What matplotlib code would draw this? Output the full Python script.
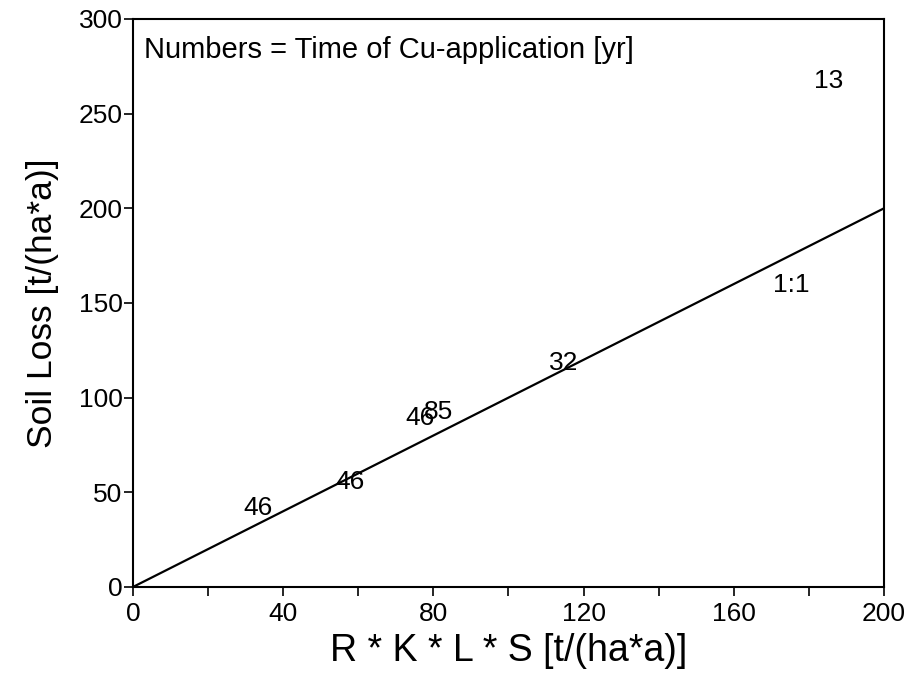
import matplotlib
matplotlib.use("Agg")
import matplotlib.pyplot as plt
from matplotlib.ticker import MultipleLocator

plt.rcParams['font.family'] = ['Liberation Sans', 'DejaVu Sans']

# Data: label text and positions (R*K*L*S, Soil Loss)
labels = ["13", "32", "46", "85", "46", "46"]
x_vals = [185.3, 114.7, 76.5, 81.3, 57.9, 33.3]
y_vals = [267.0, 118.3, 89.3, 92.4, 55.5, 41.7]

line_x = [0, 200]
line_y = [0, 200]
line_label = "1:1"
line_label_pos = (175.2, 159.5)

x_ticks = [0, 40, 80, 120, 160, 200]
y_ticks = [0, 50, 100, 150, 200, 250, 300]

fig = plt.figure(figsize=(9.12, 6.75), dpi=100)
ax = fig.add_axes([0.1458, 0.1304, 0.8235, 0.8415])

ax.plot(line_x, line_y, color='black', lw=1.6)
ax.text(line_label_pos[0], line_label_pos[1], line_label, ha='center', va='center', fontsize=19)

for t, x, y in zip(labels, x_vals, y_vals):
    ax.text(x, y, t, ha='center', va='center', fontsize=19)

ax.text(0.015, 0.945, "Numbers = Time of Cu-application [yr]", transform=ax.transAxes,
        ha='left', va='center', fontsize=21)

ax.set_xlim(0, 200)
ax.set_ylim(0, 300)
ax.set_xticks(x_ticks)
ax.set_yticks(y_ticks)
ax.xaxis.set_minor_locator(MultipleLocator(20))
ax.tick_params(axis='both', which='both', direction='out', length=6.5, width=1.2, labelsize=19)
ax.tick_params(axis='x', which='major', pad=4)
ax.tick_params(axis='y', which='major', pad=1)
for s in ax.spines.values():
    s.set_linewidth(1.5)

ax.set_xlabel("R * K * L * S [t/(ha*a)]", fontsize=27, labelpad=5)
ax.set_ylabel("Soil Loss [t/(ha*a)]", fontsize=25.5, labelpad=14)

fig.savefig("out.png", dpi=100)
